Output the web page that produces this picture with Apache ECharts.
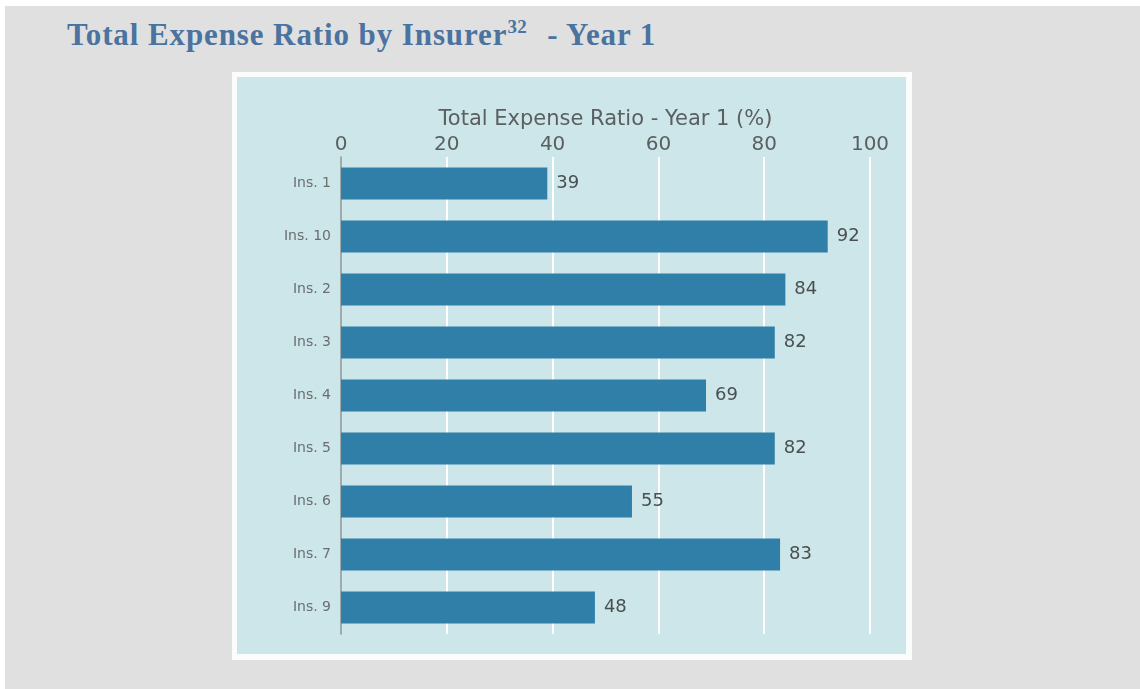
<!DOCTYPE html>
<html>
<head>
<meta charset="utf-8">
<script src="https://cdn.jsdelivr.net/npm/echarts@6/dist/echarts.min.js"></script>
<style>
html,body{margin:0;padding:0;background:#ffffff;}
#wrap{position:relative;width:1140px;height:689px;overflow:hidden;}
#gray{position:absolute;left:5px;top:6px;width:1135px;height:683px;background:#e0e0e0;}
#white{position:absolute;left:232px;top:72px;width:680px;height:588px;background:#fbfdfc;}
#panel{position:absolute;left:237px;top:77px;width:669px;height:577px;background:#cce6e9;}
#title{position:absolute;left:67px;top:19px;margin:0;font-family:'Liberation Serif',serif;font-weight:bold;font-size:31px;line-height:32px;letter-spacing:0.9px;color:#4a73a0;white-space:nowrap;}
#title sup{font-size:19px;line-height:0;vertical-align:0;position:relative;top:-12px;letter-spacing:0.3px;margin-right:3px;}
#chart{position:absolute;left:0;top:0;width:1140px;height:689px;}
</style>
</head>
<body>
<div id="wrap">
  <div id="gray"></div>
  <div id="white"></div>
  <div id="panel"></div>
  <div id="title">Total Expense Ratio by Insurer<sup>32</sup>&nbsp; - Year 1</div>
  <div id="chart"></div>
</div>
<script>
const categories = ['Ins. 1', 'Ins. 10', 'Ins. 2', 'Ins. 3', 'Ins. 4', 'Ins. 5', 'Ins. 6', 'Ins. 7', 'Ins. 9'];
const values = [39, 92, 84, 82, 69, 82, 55, 83, 48];
const xTicks = [0, 20, 40, 60, 80, 100];
const axisTitle = 'Total Expense Ratio - Year 1 (%)';

const chart = echarts.init(document.getElementById('chart'), null, {renderer: 'canvas'});
chart.setOption({
  backgroundColor: 'transparent',
  animation: false,
  grid: {left: 341, top: 157, width: 529, height: 477, containLabel: false},
  xAxis: {
    type: 'value',
    position: 'top',
    min: 0, max: 100, interval: 20,
    name: axisTitle,
    nameLocation: 'middle',
    nameGap: 22,
    nameTextStyle: {fontFamily: 'DejaVu Sans', fontSize: 21, color: '#5a5f60'},
    axisLine: {show: false},
    axisTick: {show: false},
    axisLabel: {
      fontFamily: 'DejaVu Sans', fontSize: 20, color: '#5a5f60', margin: 2,
      formatter: function (v) { return xTicks.indexOf(v) >= 0 ? String(v) : ''; }
    },
    splitLine: {show: true, lineStyle: {color: '#ffffff', width: 2}}
  },
  yAxis: {
    type: 'category',
    data: categories,
    inverse: true,
    axisLine: {show: true, lineStyle: {color: '#7f8e90', width: 1.5}},
    axisTick: {show: false},
    axisLabel: {fontFamily: 'DejaVu Sans', fontSize: 14, color: '#6a6f70', margin: 10},
    splitLine: {show: false}
  },
  series: [{
    type: 'bar',
    data: values,
    barCategoryGap: '40%',
    itemStyle: {color: '#2f7fa8'},
    label: {
      show: true, position: 'right', distance: 9,
      fontFamily: 'DejaVu Sans', fontSize: 18, color: '#4a4f50'
    }
  }]
});
</script>
</body>
</html>
